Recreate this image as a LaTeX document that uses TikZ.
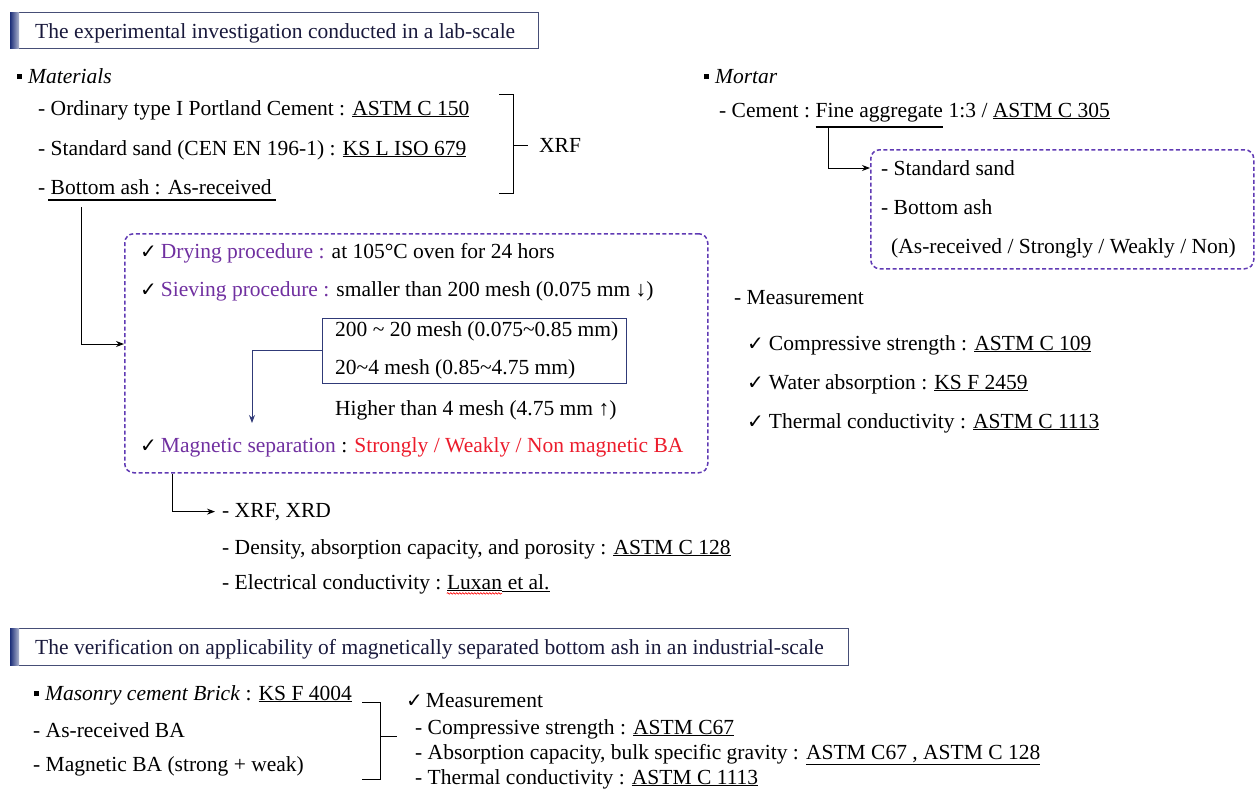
\documentclass[tikz,border=0pt]{standalone}
\usepackage{fontspec}
\setmainfont{Liberation Serif}
\newfontfamily\symfont{DejaVu Sans}
\usepackage{tikz}
\usetikzlibrary{calc}
\usetikzlibrary{arrows.meta}
\usetikzlibrary{decorations.pathmorphing}
\definecolor{hdnavy}{RGB}{28,46,120}
\definecolor{hdline}{RGB}{70,78,118}
\definecolor{hdtext}{RGB}{25,25,60}
\definecolor{procviolet}{RGB}{112,48,160}
\definecolor{boxviolet}{RGB}{96,58,180}
\definecolor{sepred}{RGB}{236,28,44}
\definecolor{meshblue}{RGB}{48,58,120}
\newcommand{\chk}{{\symfont\fontsize{20}{20}\selectfont ✓}}
\newcommand{\sqb}{\rule[4pt]{5pt}{5pt}}
\newcommand{\stdref}[1]{\underline{#1}}
\newcommand{\tl}{\textasciitilde}

\begin{document}
\begin{tikzpicture}[x=1pt,y=-1pt,
  txt/.style={anchor=base west, inner sep=0pt, font=\fontsize{21.5}{26}\selectfont},
  hdbox/.style={draw=hdline, fill=white, line width=0.8pt},
  dashbox/.style={draw=boxviolet, dash pattern=on 4pt off 2.5pt, line width=1.5pt, rounded corners=9pt, inner sep=0pt, anchor=north west},
  bar/.style={line width=2pt},
  link/.style={line width=1pt, -{Stealth[length=8pt,width=6pt]}},
  brack/.style={line width=1pt}]
\useasboundingbox (0,0) rectangle (1258,790);

% lab-scale part
\draw[hdbox] (10,12) rectangle (538,48);
\shade[left color=hdnavy, right color=hdnavy!35] (10,12) rectangle (19,48);
\node[txt, text=hdtext] (hdlab) at (35,38) {The experimental investigation conducted in a lab-scale};

\node[txt] (mat) at (17,83) {\sqb\hspace{6pt}\textit{Materials}};
\node[txt] (opc) at (38,115) {- Ordinary type I Portland Cement : \stdref{ASTM C 150}};
\node[txt] (sand) at (38,155) {- Standard sand (CEN EN 196-1) : \stdref{KS L ISO 679}};
\node[txt] (ash) at (38,194) {- Bottom ash : As-received};
\draw[bar] ([xshift=10pt,yshift=-5pt]ash.south west) -- ([xshift=4pt,yshift=-5pt]ash.south east);
\coordinate (ashbar) at (81,207);

\draw[brack] (499,94) -| (513,193) -- (499,193);
\draw[brack] (513,145) -- (528,145);
\node[txt] (xrf) at (539,152) {XRF};

\node[dashbox, minimum width=583pt, minimum height=239pt] (labbox) at (124,233) {};
\coordinate (labin) at (124,344);
\draw[link] (ashbar) |- (labin);

\node[txt] (dry) at (140,258) {\chk\hspace{4pt}\textcolor{procviolet}{Drying procedure :} at 105°C oven for 24 hors};
\node[txt] (sieve) at (140,296) {\chk\hspace{4pt}\textcolor{procviolet}{Sieving procedure :} smaller than 200 mesh (0.075 mm ↓)};
\node[draw=meshblue, line width=0.8pt, inner sep=0pt, anchor=north west, minimum width=304pt, minimum height=65pt] (meshbox) at (322,318) {};
\node[txt] (mesha) at (335,336) {200 \tl\ 20 mesh (0.075\tl 0.85 mm)};
\node[txt] (meshb) at (335,374) {20\tl 4 mesh (0.85\tl 4.75 mm)};
\node[txt] (higher) at (335,415) {Higher than 4 mesh (4.75 mm ↑)};
\coordinate (sievetip) at (252,423);
\draw[link, meshblue] (meshbox.west) -| (sievetip);
\node[txt] (magsep) at (140,452) {\chk\hspace{4pt}\textcolor{procviolet}{Magnetic separation} : \textcolor{sepred}{Strongly / Weakly / Non magnetic BA}};

\node[txt] (xrfxrd) at (222,517) {- XRF, XRD};
\draw[link, shorten >=7pt] ([xshift=48pt]labbox.south west) |- (xrfxrd.west);
\node[txt] (density) at (222,554) {- Density, absorption capacity, and porosity : \stdref{ASTM C 128}};
\node[txt] (elec) at (222,589) {- Electrical conductivity :\ \mbox{}};
\node[txt] (luxan) at (elec.base east) {\stdref{Luxan}};
\node[txt] (etal) at (luxan.base east) {\stdref{\ et al.}};
\draw[red, line width=0.6pt, decorate, decoration={snake, amplitude=0.8pt, segment length=3pt}]
  ([yshift=-2pt]luxan.south west) -- ([yshift=-2pt]luxan.south east);

% mortar
\node[txt] (mortar) at (704,83) {\sqb\hspace{6pt}\textit{Mortar}};
\node[txt] (cement) at (719,117) {- Cement :\ \mbox{}};
\node[txt] (fineagg) at (cement.base east) {Fine aggregate};
\node[txt] (ratio) at (fineagg.base east) {\ 1:3 / \stdref{ASTM C 305}};
\draw[bar] ([yshift=-5pt]fineagg.south west) -- ([yshift=-5pt]fineagg.south east);
\coordinate (finebar) at (828,128);

\node[dashbox, minimum width=383pt, minimum height=119pt] (mixbox) at (870,149) {};
\coordinate (mixin) at (870,168);
\draw[link] (finebar) |- (mixin);
\node[txt] (stsand) at (881,175) {- Standard sand};
\node[txt] (btash) at (881,214) {- Bottom ash};
\node[txt] (batypes) at (891,253) {(As-received / Strongly / Weakly / Non)};

\node[txt] (meas) at (734,304) {- Measurement};
\foreach \nm/\yy/\body in {comp/350/{Compressive strength : \stdref{ASTM C 109}},
                          water/389/{Water absorption : \stdref{KS F 2459}},
                          therm/428/{Thermal conductivity : \stdref{ASTM C 1113}}}
  \node[txt] (\nm) at (747,\yy) {\chk\hspace{5pt}\body};

% industrial-scale part
\draw[hdbox] (10,628) rectangle (848,665);
\shade[left color=hdnavy, right color=hdnavy!35] (10,628) rectangle (19,665);
\node[txt, text=hdtext] (hdind) at (35,654) {The verification on applicability of magnetically separated bottom ash in an industrial-scale};

\node[txt] (brick) at (34,700) {\sqb\hspace{6pt}\textit{Masonry cement Brick} : \stdref{KS F 4004}};
\node[txt] (asrec) at (33,737) {- As-received BA};
\node[txt] (magba) at (33,771) {- Magnetic BA (strong + weak)};
\draw[brack] (362,702) -| (380,779) -- (362,779);
\draw[brack] (380,736) -- (397,736);

\node[txt] (bmeas) at (406,707) {\chk\hspace{3pt}Measurement};
\node[txt] (bcomp) at (415,734) {- Compressive strength : \stdref{ASTM C67}};
\node[txt] (babs) at (415,759) {- Absorption capacity, bulk specific gravity : \stdref{ASTM C67 , ASTM C 128}};
\node[txt] (btherm) at (415,784) {- Thermal conductivity : \stdref{ASTM C 1113}};
\end{tikzpicture}
\end{document}
